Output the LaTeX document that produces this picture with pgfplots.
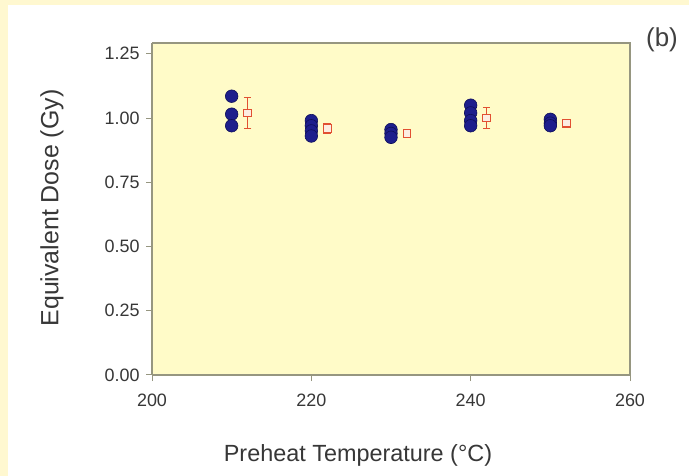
\documentclass[border=0pt]{standalone}
\usepackage{pgfplots}
\pgfplotsset{compat=1.18}
\usepackage{fontspec}
\setmainfont{Liberation Sans}
\definecolor{bgyel}{RGB}{255,248,208}
\definecolor{axyel}{RGB}{255,251,200}
\definecolor{frame}{RGB}{150,150,128}
\definecolor{navy}{RGB}{30,30,140}
\definecolor{navyd}{RGB}{15,15,90}
\definecolor{redo}{RGB}{225,80,50}
\definecolor{txt}{RGB}{55,55,55}
\begin{document}
\begin{tikzpicture}
\fill[white] (0bp,0bp) rectangle (689bp,476bp);
\fill[bgyel] (0bp,0bp) rectangle (8bp,476bp);
\fill[bgyel] (0bp,471bp) rectangle (689bp,476bp);
\begin{axis}[
  at={(152bp,101bp)}, anchor=south west,
  scale only axis, width=478bp, height=332bp,
  xmin=200, xmax=260, ymin=0, ymax=1.292,
  xtick={200,220,240,260},
  ytick={0,0.25,0.5,0.75,1,1.25},
  axis background/.style={fill=axyel},
  axis line style={frame, line width=1.5bp},
  axis x line*=bottom, axis y line*=left,
  tick style={frame, line width=1bp},
  tick align=outside, major tick length=6bp,
  every tick label/.style={font=\fontsize{18}{20}\selectfont, text=txt},
  yticklabel style={/pgf/number format/.cd, fixed, fixed zerofill, precision=2, assume math mode=true},
  xticklabel style={/pgf/number format/.cd, assume math mode=true, 1000 sep={}},
  xticklabel shift=9bp, yticklabel shift=3bp,
  clip=false,
]
\draw[frame, line width=1.5bp] (rel axis cs:0,1) -- (rel axis cs:1,1) -- (rel axis cs:1,0);
\addplot[only marks, mark=*, mark size=6.3bp, mark options={fill=navy, draw=navyd, line width=0.6bp}] coordinates {
 (210,1.085) (210,1.015) (210,0.97)
 (220,0.99) (220,0.97) (220,0.95) (220,0.93)
 (230,0.955) (230,0.94) (230,0.925)
 (240,1.05) (240,1.02) (240,0.99) (240,0.97)
 (250,0.995) (250,0.98) (250,0.97)
};
\addplot[only marks, mark=square*, mark size=3.8bp, mark options={fill=axyel!60!redo!25, draw=redo, line width=1.1bp},
  error bars/.cd, y dir=both, y explicit,
  error bar style={redo, line width=0.8bp},
  error mark options={rotate=90, mark size=3.8bp, redo, line width=0.8bp}] coordinates {
 (212,1.02) +- (0,0.06)
 (222,0.96) +- (0,0.02)
 (232,0.94) +- (0,0.01)
 (242,1.00) +- (0,0.04)
 (252,0.98) +- (0,0.01)
};
\end{axis}
\node[rotate=90, font=\fontsize{25}{28}\selectfont, text=txt] at (52bp,268bp) {Equivalent Dose (Gy)};
\node[font=\fontsize{23.5}{26}\selectfont, text=txt] at (358bp,21bp) {Preheat Temperature (°C)};
\node[font=\fontsize{26}{30}\selectfont, text=black!75] at (662bp,436bp) {(b)};
\end{tikzpicture}
\end{document}
